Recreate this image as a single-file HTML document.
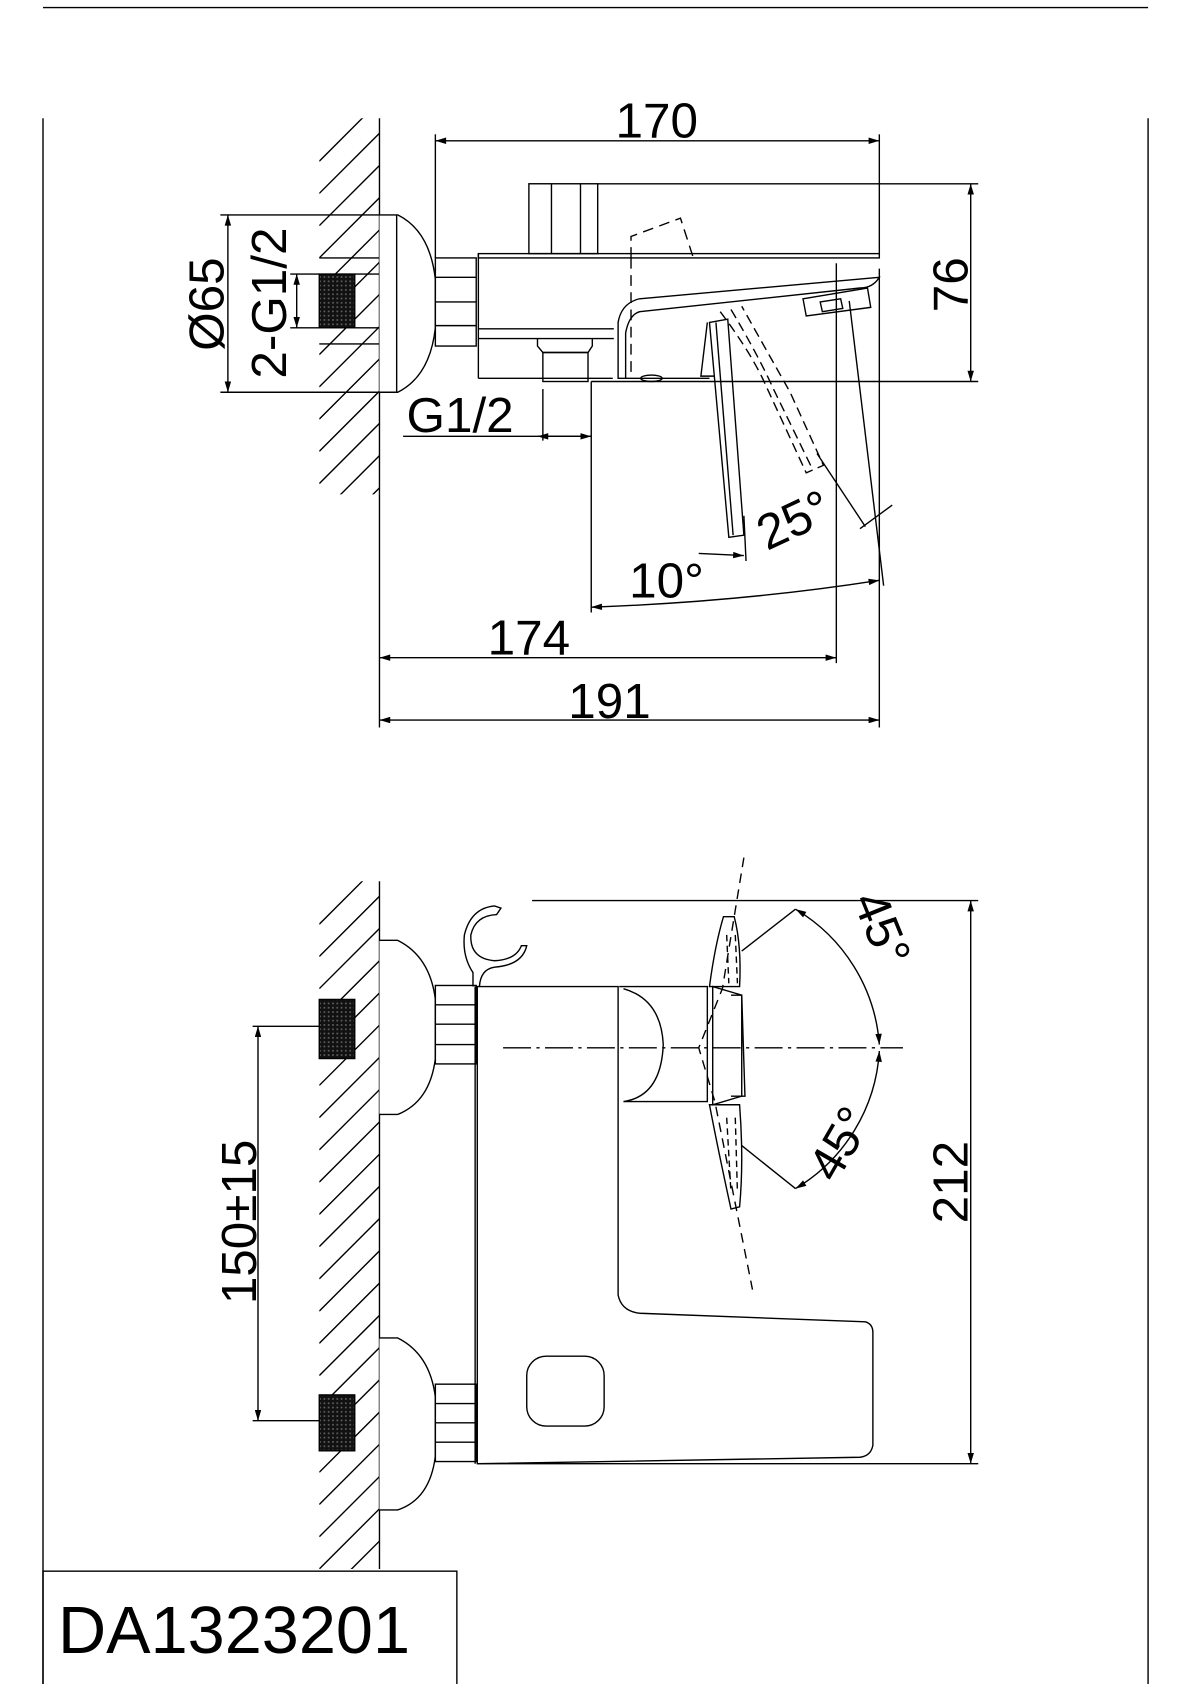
<!DOCTYPE html>
<html><head><meta charset="utf-8"><style>
html,body{margin:0;padding:0;background:#fff;}
svg{display:block;}
text{font-family:"Liberation Sans",sans-serif;fill:#000;}
</style></head><body>
<svg width="1190" height="1684" viewBox="0 0 1107 1567" preserveAspectRatio="none" xmlns="http://www.w3.org/2000/svg">
<defs>
<clipPath id="w1"><rect x="297" y="110" width="56" height="350"/></clipPath>
<clipPath id="w2"><rect x="297" y="820" width="56" height="640"/></clipPath>
<pattern id="knurl" width="4" height="4" patternUnits="userSpaceOnUse"><rect width="4" height="4" fill="#111"/><rect x="1" y="1" width="1.5" height="1.5" fill="#666"/></pattern>
<marker id="ar" viewBox="0 0 10 6" refX="10" refY="3" markerWidth="14" markerHeight="6" orient="auto-start-reverse" markerUnits="userSpaceOnUse"><path d="M0,0 L10,3 L0,6 z" fill="#000"/></marker>
</defs>
<g fill="none" stroke="#000" stroke-width="1.3">
<line x1="40" y1="7" x2="1068" y2="7"/>
<line x1="40" y1="110" x2="40" y2="1568"/>
<line x1="1068" y1="110" x2="1068" y2="1568"/>
<line x1="40" y1="1568" x2="1068" y2="1568"/>
<rect x="40" y="1462" width="385" height="106"/>

<line x1="353" y1="110" x2="353" y2="460"/>
<g clip-path="url(#w1)">
<path d="M297,150 L353,94 M297,180 L353,124 M297,210 L353,154 M297,240 L353,184 M297,270 L353,214 M297,300 L353,244 M297,330 L353,274 M297,360 L353,304 M297,390 L353,334 M297,420 L353,364 M297,450 L353,394 M297,480 L353,424 M297,510 L353,454"/>
</g>
<rect x="297" y="255" width="33" height="50" fill="url(#knurl)" stroke="#000"/>
<line x1="330" y1="255" x2="353" y2="255"/><line x1="330" y1="305" x2="353" y2="305"/>
<line x1="297" y1="240" x2="353" y2="240"/><line x1="297" y1="320" x2="353" y2="320"/>
<path d="M353,200 L370,200 Q400,215 405,260 L405,305 Q400,350 370,365 L353,365" fill="#fff"/>
<line x1="369" y1="200" x2="369" y2="365"/>
<rect x="405" y="240" width="38" height="82" fill="#fff"/>
<line x1="405" y1="258" x2="443" y2="258"/><line x1="405" y1="281" x2="443" y2="281"/><line x1="405" y1="303" x2="443" y2="303"/>
<rect x="445" y="236" width="373" height="4"/>
<line x1="445" y1="236" x2="445" y2="352"/>
<line x1="445" y1="306" x2="571" y2="306"/><line x1="445" y1="315" x2="571" y2="315"/>
<line x1="445" y1="352" x2="570" y2="352"/>
<path d="M575,352 L575,300 Q578,282 595,278 L818,258 Q812,268 800,268 L595,290 Q585,293 582,310 L582,352 Z"/>
<path d="M582,352 L660,352"/>
<ellipse cx="606" cy="352" rx="10" ry="3"/>
<path d="M500,315 L500,322 L505,328 L547,328 L551,322 L551,315"/>
<rect x="505" y="328" width="42" height="27"/>
<rect x="492" y="171" width="64" height="65"/>
<line x1="513" y1="171" x2="513" y2="236"/><line x1="540" y1="171" x2="540" y2="236"/>
<path d="M747,278 L807,268 L810,286 L750,294 Z"/>
<path d="M763,281 L782,278 L784,287 L765,290 Z"/>
<path d="M660,300 L677,297 L692,498 L678,500 Z"/>
<path d="M666,300 L682,498"/>
<path d="M658,300 L652,350 L665,350"/>
<path d="M587,240 L587,220 L633,203 L645,240" stroke-dasharray="10,6"/>
<path d="M587,240 L587,350" stroke-dasharray="10,6"/>
<path d="M670,290 Q700,330 713,360 L750,440 L766,433 L735,365 L690,285" stroke-dasharray="9,5"/>
<path d="M680,288 Q705,330 720,363 L756,437" stroke-dasharray="9,5"/>

<line x1="405" y1="125" x2="405" y2="240"/>
<line x1="818" y1="125" x2="818" y2="236"/>
<line x1="405" y1="131" x2="818" y2="131" marker-start="url(#ar)" marker-end="url(#ar)"/>
<line x1="556" y1="171" x2="910" y2="171"/>
<line x1="550" y1="355" x2="910" y2="355"/>
<line x1="903" y1="171" x2="903" y2="355" marker-start="url(#ar)" marker-end="url(#ar)"/>
<line x1="212" y1="200" x2="212" y2="365" marker-start="url(#ar)" marker-end="url(#ar)"/>
<line x1="205" y1="200" x2="353" y2="200"/><line x1="205" y1="365" x2="353" y2="365"/>
<line x1="276" y1="255" x2="276" y2="305" marker-start="url(#ar)" marker-end="url(#ar)"/>
<line x1="270" y1="255" x2="297" y2="255"/><line x1="270" y1="305" x2="297" y2="305"/>
<line x1="375" y1="406" x2="550" y2="406"/>
<line x1="505" y1="362" x2="505" y2="410"/>
<line x1="500" y1="406" x2="550" y2="406" marker-start="url(#ar)" marker-end="url(#ar)"/>
<line x1="550" y1="355" x2="550" y2="570"/>
<line x1="778" y1="245" x2="778" y2="617"/>
<line x1="818" y1="250" x2="818" y2="677"/>
<line x1="353" y1="460" x2="353" y2="677"/>
<line x1="353" y1="612" x2="778" y2="612" marker-start="url(#ar)" marker-end="url(#ar)"/>
<line x1="353" y1="670" x2="818" y2="670" marker-start="url(#ar)" marker-end="url(#ar)"/>
<path d="M550,565 Q690,560 818,540" marker-start="url(#ar)" marker-end="url(#ar)"/>
<line x1="790" y1="280" x2="822" y2="545"/>
<line x1="650" y1="515" x2="692" y2="517" marker-end="url(#ar)"/>
<line x1="692" y1="480" x2="694" y2="522"/>
<line x1="760" y1="422" x2="805" y2="490"/>
<line x1="800" y1="492" x2="830" y2="470"/>

<line x1="353" y1="820" x2="353" y2="1460"/>
<g clip-path="url(#w2)">
<path d="M297,860 L353,804 M297,890 L353,834 M297,920 L353,864 M297,950 L353,894 M297,980 L353,924 M297,1010 L353,954 M297,1040 L353,984 M297,1070 L353,1014 M297,1100 L353,1044 M297,1130 L353,1074 M297,1160 L353,1104 M297,1190 L353,1134 M297,1220 L353,1164 M297,1250 L353,1194 M297,1280 L353,1224 M297,1310 L353,1254 M297,1340 L353,1284 M297,1370 L353,1314 M297,1400 L353,1344 M297,1430 L353,1374 M297,1460 L353,1404 M297,1490 L353,1434"/>
</g>
<rect x="297" y="930" width="33" height="55" fill="url(#knurl)"/>
<rect x="297" y="1298" width="33" height="52" fill="url(#knurl)"/>
<path d="M353,875 L370,875 Q400,890 405,930 L405,985 Q400,1025 370,1037 L353,1037" fill="#fff"/>
<path d="M353,1245 L370,1245 Q400,1260 405,1300 L405,1355 Q400,1395 370,1405 L353,1405" fill="#fff"/>
<rect x="405" y="917" width="38" height="73" fill="#fff"/>
<line x1="405" y1="935" x2="443" y2="935"/><line x1="405" y1="953" x2="443" y2="953"/><line x1="405" y1="972" x2="443" y2="972"/>
<rect x="405" y="1288" width="38" height="72" fill="#fff"/>
<line x1="405" y1="1306" x2="443" y2="1306"/><line x1="405" y1="1324" x2="443" y2="1324"/><line x1="405" y1="1342" x2="443" y2="1342"/>
<path d="M440,918 L440,905 Q430,890 432,870 Q438,845 460,843 L466,845 L462,851 Q442,852 438,870 Q437,892 460,894 Q480,893 485,880 L490,880 Q486,898 460,900 Q447,902 446,918"/>
<path d="M444,918 L575,918 L575,1205 Q578,1220 595,1222 L805,1230 Q812,1232 812,1240 L812,1345 Q810,1355 800,1356 L444,1362 Z"/>
<line x1="442" y1="918" x2="442" y2="1362"/>
<rect x="490" y="1262" width="72" height="65" rx="18"/>
<path d="M576,918 L658,918 L658,1025 L580,1025"/>
<path d="M580,920 Q615,930 617,972 Q615,1020 580,1025"/>
<path d="M663,918 L690,926 L690,1020 L663,1028 Z"/>
<path d="M680,1020 L693,1020 L690,926 L680,926"/>
<path d="M673,853 L683,853 Q690,880 688,918 L660,918 Q665,880 673,853 Z"/>
<path d="M660,1028 L688,1028 Q692,1080 688,1123 L680,1125 Q668,1070 660,1028 Z"/>
<path d="M692,798 L672,920 L650,975 L665,1025 L700,1200" stroke-dasharray="9,6"/>
<path d="M676,870 L678,915 M684,870 L686,915 M676,1040 L680,1110 M684,1040 L686,1110" stroke-dasharray="6,4"/>
<line x1="468" y1="975" x2="840" y2="975" stroke-dasharray="26,5,3,5"/>
<line x1="495" y1="838" x2="910" y2="838"/>
<line x1="444" y1="1362" x2="910" y2="1362"/>
<line x1="903" y1="838" x2="903" y2="1362" marker-start="url(#ar)" marker-end="url(#ar)"/>
<line x1="235" y1="955" x2="297" y2="955"/><line x1="235" y1="1322" x2="297" y2="1322"/>
<line x1="240" y1="955" x2="240" y2="1322" marker-start="url(#ar)" marker-end="url(#ar)"/>
<line x1="690" y1="885" x2="740" y2="846"/>
<line x1="690" y1="1066" x2="740" y2="1106"/>
<path d="M740,846 A160,160 0 0 1 818,972" marker-start="url(#ar)" marker-end="url(#ar)"/>
<path d="M818,978 A160,160 0 0 1 740,1106" marker-start="url(#ar)" marker-end="url(#ar)"/>
</g>
<g font-size="46">
<text x="611" y="128" text-anchor="middle">170</text>
<text x="492" y="609" text-anchor="middle">174</text>
<text x="567" y="668" text-anchor="middle">191</text>
<text x="428" y="402" text-anchor="middle">G1/2</text>
<text x="620" y="556" text-anchor="middle">10°</text>
<text transform="translate(745,498) rotate(-25)" text-anchor="middle">25°</text>
<text transform="translate(900,265) rotate(-90)" text-anchor="middle">76</text>
<text transform="translate(208,283) rotate(-90)" text-anchor="middle">Ø65</text>
<text transform="translate(266,282) rotate(-90)" text-anchor="middle">2-G1/2</text>
<text transform="translate(900,1100) rotate(-90)" text-anchor="middle">212</text>
<text transform="translate(238,1137) rotate(-90)" text-anchor="middle">150±15</text>
<text transform="translate(806,870) rotate(68)" text-anchor="middle">45°</text>
<text transform="translate(795,1072) rotate(-60)" text-anchor="middle">45°</text>
</g>
<text x="54" y="1538" font-size="62">DA1323201</text>
</svg>
</body></html>
